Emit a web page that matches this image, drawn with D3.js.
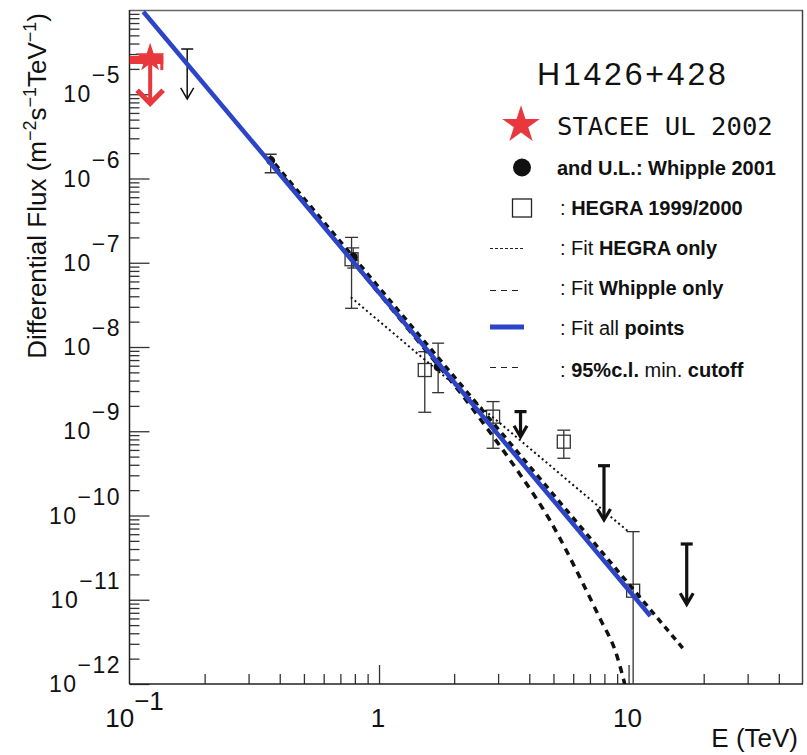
<!DOCTYPE html>
<html>
<head>
<meta charset="utf-8">
<script src="https://cdn.jsdelivr.net/npm/d3@7"></script>
<style>
  body { margin: 0; background: #fff; }
</style>
</head>
<body>
<svg id="chart" width="807" height="755"></svg>
<script>
// values (E in TeV, flux in m^-2 s^-1 TeV^-1)
const whippleE = [0.368, 0.788, 1.725];
const whippleF = [1.63e-6, 1.17e-7, 5.83e-9];
const whippleLo = [1.17e-6, 8.65e-8, 2.87e-9];
const whippleHi = [1.94e-6, 1.50e-7, 1.11e-8];

const hegraE = [0.776, 1.525, 2.864, 5.50, 10.43];
const hegraF = [1.10e-7, 5.33e-9, 1.49e-9, 7.52e-10, 1.28e-11];
const hegraLo = [2.88e-8, 1.68e-9, 6.28e-10, 4.78e-10, 1e-13];
const hegraHi = [2.0e-7, 8.8e-9, 2.25e-9, 1.03e-9, 6.43e-11];

// Whipple upper limits: cap value and arrow tip
const ulE = [0.1703, 3.69, 7.97, 17.1];
const ulTop = [3.44e-5, 1.71e-9, 3.9e-10, 4.59e-11];
const ulTip = [8.8e-6, 8.6e-10, 8.85e-11, 8.83e-12];

const staceeE = [0.121];
const staceeF = [2.55e-5];
const staceeELo = [0.1];
const staceeEHi = [0.1366];
const staceeTip = [7.8e-6];

const fitAllE = [0.1136, 12.23];
const fitAllF = [9.55e-5, 6.41e-12];
const fitHegraE = [0.771, 10.1];
const fitHegraF = [3.89e-8, 6.25e-11];
const fitWhippleE = [0.3825, 16.5];
const fitWhippleF = [1.49e-6, 2.66e-12];
const cutoffE = [0.3825, 0.764, 1.457, 2.107, 2.778, 3.664, 4.831, 6.549, 7.662, 8.960, 9.472, 9.826];
const cutoffF = [1.40e-6, 1.14e-7, 1.11e-8, 2.92e-9, 9.8e-10, 3.11e-10, 8.85e-11, 1.58e-11, 6.07e-12, 2.21e-12, 1.24e-12, 8.0e-13];

const xDomain = [0.1, 50];
const yDomain = [1e-12, 1e-4];
const xTickLabels = [[0.1, "10", "\u22121"], [1, "1", ""], [10, "10", ""]];
const yDecades = [-5, -6, -7, -8, -9, -10, -11, -12];

const sourceName = "H1426+428";
const staceeLabel = "STACEE UL 2002";
// legend rows: pieces of [text, bold]
const legendRows = [
  [["and U.L.: Whipple 2001", true]],
  [[": ", false], ["HEGRA 1999/2000", true]],
  [[": Fit ", false], ["HEGRA only", true]],
  [[": Fit ", false], ["Whipple only", true]],
  [[": Fit all ", false], ["points", true]],
  [[": ", false], ["95%c.l.", true], [" min. ", false], ["cutoff", true]]
];

const RED = "#e8383d";
const BLUE = "#2c45c8";
const FONT = "Liberation Sans, Arial, sans-serif";

const svg = d3.select("#chart");
const pLeft = 129.5, pRight = 803, pTop = 10, pBottom = 684;

const x = d3.scaleLog().domain(xDomain).range([pLeft, pRight]);
const y = d3.scaleLog().domain(yDomain).range([pBottom, pTop]);

svg.append("defs").append("clipPath").attr("id", "plotclip")
  .append("rect")
  .attr("x", pLeft).attr("y", pTop)
  .attr("width", pRight - pLeft).attr("height", pBottom - pTop);

// ---------- ticks ----------
const minorX = [];
[0.1, 1, 10].forEach(d => d3.range(2, 10).forEach(m => { if (m * d < 50) minorX.push(m * d); }));
const majorX = [1, 10];
const minorY = [];
d3.range(-12, -4).forEach(k => d3.range(2, 10).forEach(m => minorY.push(m * Math.pow(10, k))));
const majorY = yDecades.map(k => Math.pow(10, k));

const tickStyle = g => {
  g.select(".domain").remove();
  g.selectAll("text").remove();
  g.selectAll("line").attr("stroke", "#333").attr("stroke-width", 1.3);
};

svg.append("g").attr("transform", `translate(${pLeft},0)`)
  .call(d3.axisRight(y).tickValues(minorY).tickSize(10).tickFormat(""))
  .call(tickStyle);
svg.append("g").attr("transform", `translate(${pLeft},0)`)
  .call(d3.axisRight(y).tickValues(majorY).tickSize(20).tickFormat(""))
  .call(tickStyle);
svg.append("g").attr("transform", `translate(0,${pBottom})`)
  .call(d3.axisTop(x).tickValues(minorX).tickSize(10).tickFormat(""))
  .call(tickStyle);
svg.append("g").attr("transform", `translate(0,${pBottom})`)
  .call(d3.axisTop(x).tickValues(majorX).tickSize(19).tickFormat(""))
  .call(tickStyle);

// frame
svg.append("line").attr("x1", pLeft).attr("x2", pRight).attr("y1", pTop + 0.5).attr("y2", pTop + 0.5)
  .attr("stroke", "#666").attr("stroke-width", 1.5);
svg.append("line").attr("x1", pRight - 0.5).attr("x2", pRight - 0.5).attr("y1", pTop).attr("y2", pBottom)
  .attr("stroke", "#444").attr("stroke-width", 1.5);
svg.append("line").attr("x1", pLeft).attr("x2", pLeft).attr("y1", pTop).attr("y2", pBottom)
  .attr("stroke", "#222").attr("stroke-width", 1.5);
svg.append("line").attr("x1", pLeft).attr("x2", pRight).attr("y1", pBottom).attr("y2", pBottom)
  .attr("stroke", "#222").attr("stroke-width", 1.5);

// tick labels
const yl = svg.append("g").attr("font-family", FONT).attr("font-size", 23).attr("fill", "#111");
yDecades.forEach(k => {
  const t = yl.append("text")
    .attr("x", 121).attr("y", y(Math.pow(10, k)) + 8)
    .attr("text-anchor", "end").attr("letter-spacing", 1.5);
  t.append("tspan").text("10");
  t.append("tspan").attr("dy", -19).text("\u2212" + (-k));
});

const xl = svg.append("g").attr("font-family", FONT).attr("font-size", 26).attr("fill", "#111");
xTickLabels.forEach(([v, base, exp]) => {
  const t = xl.append("text")
    .attr("x", x(v) + (exp ? 5 : -1)).attr("y", 727)
    .attr("text-anchor", "middle");
  t.append("tspan").text(base);
  if (exp) t.append("tspan").attr("dy", -17).text(exp);
});

// axis titles
const yt = svg.append("text")
  .attr("transform", "translate(46,13) rotate(-90)")
  .attr("text-anchor", "end")
  .attr("font-family", FONT).attr("font-size", 26).attr("fill", "#111");
yt.append("tspan").text("Differential Flux (m");
yt.append("tspan").attr("dy", -10).attr("font-size", 18).text("\u22122");
yt.append("tspan").attr("dy", 10).text("s");
yt.append("tspan").attr("dy", -10).attr("font-size", 18).text("\u22121");
yt.append("tspan").attr("dy", 10).text("TeV");
yt.append("tspan").attr("dy", -10).attr("font-size", 18).text("\u22121");
yt.append("tspan").attr("dy", 10).text(")");

svg.append("text")
  .attr("x", 798).attr("y", 747)
  .attr("text-anchor", "end")
  .attr("font-family", FONT).attr("font-size", 26).attr("fill", "#111")
  .text("E (TeV)");

// ---------- plot content ----------
const plot = svg.append("g").attr("clip-path", "url(#plotclip)");
const line = d3.line().x(d => x(d[0])).y(d => y(d[1]));

// error bars
const drawErr = (es, lo, hi, cap) => {
  es.forEach((e, i) => {
    const cx = x(e);
    plot.append("line").attr("x1", cx).attr("x2", cx).attr("y1", y(lo[i])).attr("y2", y(hi[i]))
      .attr("stroke", "#333").attr("stroke-width", 1.3);
    [lo[i], hi[i]].forEach(v => {
      plot.append("line").attr("x1", cx - cap / 2).attr("x2", cx + cap / 2).attr("y1", y(v)).attr("y2", y(v))
        .attr("stroke", "#333").attr("stroke-width", 1.3);
    });
  });
};
drawErr(hegraE, hegraLo, hegraHi, 13);
drawErr(whippleE, whippleLo, whippleHi, 12);

plot.selectAll(".hegra").data(hegraE).join("rect")
  .attr("class", "hegra")
  .attr("x", d => x(d) - 6.5)
  .attr("y", (d, i) => y(hegraF[i]) - 6.5)
  .attr("width", 13).attr("height", 13)
  .attr("fill", "none").attr("stroke", "#333").attr("stroke-width", 1.3);

plot.selectAll(".whipple").data(whippleE).join("circle")
  .attr("class", "whipple")
  .attr("cx", d => x(d))
  .attr("cy", (d, i) => y(whippleF[i]))
  .attr("r", 4.5)
  .attr("fill", "#111");

// Whipple upper limits
ulE.forEach((e, i) => {
  const cx = x(e), y0 = y(ulTop[i]), y1 = y(ulTip[i]);
  const w = i === 0 ? 1.5 : 3.2;
  const g = plot.append("g").attr("stroke", "#111").attr("stroke-width", w).attr("fill", "none");
  g.append("line").attr("x1", cx).attr("x2", cx).attr("y1", y0).attr("y2", y1 - 1);
  g.append("line").attr("x1", cx - 6).attr("x2", cx + 6).attr("y1", y0).attr("y2", y0);
  g.append("path").attr("d", `M${cx - 6.5},${y1 - 11}L${cx},${y1}L${cx + 6.5},${y1 - 11}`)
    .attr("stroke-linejoin", "miter");
});

// fits
plot.append("path").datum(fitHegraE.map((e, i) => [e, fitHegraF[i]]))
  .attr("d", line).attr("fill", "none")
  .attr("stroke", "#111").attr("stroke-width", 2).attr("stroke-dasharray", "2,3");
plot.append("path").datum(cutoffE.map((e, i) => [e, cutoffF[i]]))
  .attr("d", line.curve(d3.curveMonotoneX)).attr("fill", "none")
  .attr("stroke", "#111").attr("stroke-width", 3.5).attr("stroke-dasharray", "7,6");
line.curve(d3.curveLinear);
plot.append("path").datum(fitWhippleE.map((e, i) => [e, fitWhippleF[i]]))
  .attr("d", line).attr("fill", "none")
  .attr("stroke", "#111").attr("stroke-width", 3.5).attr("stroke-dasharray", "6,5");
plot.append("path").datum(fitAllE.map((e, i) => [e, fitAllF[i]]))
  .attr("d", line).attr("fill", "none")
  .attr("stroke", BLUE).attr("stroke-width", 4.5);

// STACEE upper limit
staceeE.forEach((e, i) => {
  const cx = x(e), cy = y(staceeF[i]), tip = y(staceeTip[i]);
  const g = plot.append("g").attr("stroke", RED).attr("fill", "none");
  g.append("line").attr("x1", x(staceeELo[i])).attr("x2", x(staceeEHi[i])).attr("y1", cy).attr("y2", cy)
    .attr("stroke-width", 8);
  g.append("line").attr("x1", x(staceeEHi[i]) - 1.5).attr("x2", x(staceeEHi[i]) - 1.5)
    .attr("y1", cy - 6).attr("y2", cy + 10).attr("stroke-width", 3);
  g.append("line").attr("x1", cx).attr("x2", cx).attr("y1", cy).attr("y2", tip - 2).attr("stroke-width", 4);
  g.append("path").attr("d", `M${cx - 13},${tip - 13}L${cx},${tip}L${cx + 13},${tip - 13}`)
    .attr("stroke-width", 5).attr("stroke-linejoin", "miter");
  plot.append("path").attr("d", d3.symbol(d3.symbolStar, 260)())
    .attr("transform", `translate(${cx},${cy - 2})`)
    .attr("fill", RED);
});

// ---------- legend ----------
const lg = svg.append("g").attr("font-family", FONT).attr("fill", "#111");
lg.append("text").attr("x", 537).attr("y", 85)
  .attr("font-size", 32).attr("letter-spacing", 2.8)
  .text(sourceName);

lg.append("path").attr("d", d3.symbol(d3.symbolStar, 440)())
  .attr("transform", "translate(521,125)").attr("fill", RED);
lg.append("text").attr("x", 557).attr("y", 135)
  .attr("font-family", "DejaVu Sans Mono, monospace").attr("font-size", 25.6)
  .text(staceeLabel);

const rowY = [174.5, 215, 255, 295, 335, 377];
const textX = [557, 560, 560, 560, 560, 560];
legendRows.forEach((pieces, i) => {
  const t = lg.append("text").attr("x", textX[i]).attr("y", rowY[i]).attr("font-size", 20);
  pieces.forEach(([s, b]) => t.append("tspan").attr("font-weight", b ? "bold" : "normal").text(s));
});

lg.append("circle").attr("cx", 522).attr("cy", 167.5).attr("r", 9).attr("fill", "#111");
lg.append("rect").attr("x", 512.5).attr("y", 199).attr("width", 19).attr("height", 18)
  .attr("fill", "none").attr("stroke", "#222").attr("stroke-width", 1.3);
lg.append("line").attr("x1", 490).attr("x2", 523).attr("y1", 248.5).attr("y2", 248.5)
  .attr("stroke", "#222").attr("stroke-width", 1).attr("stroke-dasharray", "3,2");
lg.append("line").attr("x1", 490).attr("x2", 523).attr("y1", 290.5).attr("y2", 290.5)
  .attr("stroke", "#222").attr("stroke-width", 1).attr("stroke-dasharray", "6,5");
lg.append("line").attr("x1", 490).attr("x2", 524).attr("y1", 327).attr("y2", 327)
  .attr("stroke", BLUE).attr("stroke-width", 5);
lg.append("line").attr("x1", 490).attr("x2", 523).attr("y1", 367.5).attr("y2", 367.5)
  .attr("stroke", "#222").attr("stroke-width", 1).attr("stroke-dasharray", "6,5");
</script>
</body>
</html>
